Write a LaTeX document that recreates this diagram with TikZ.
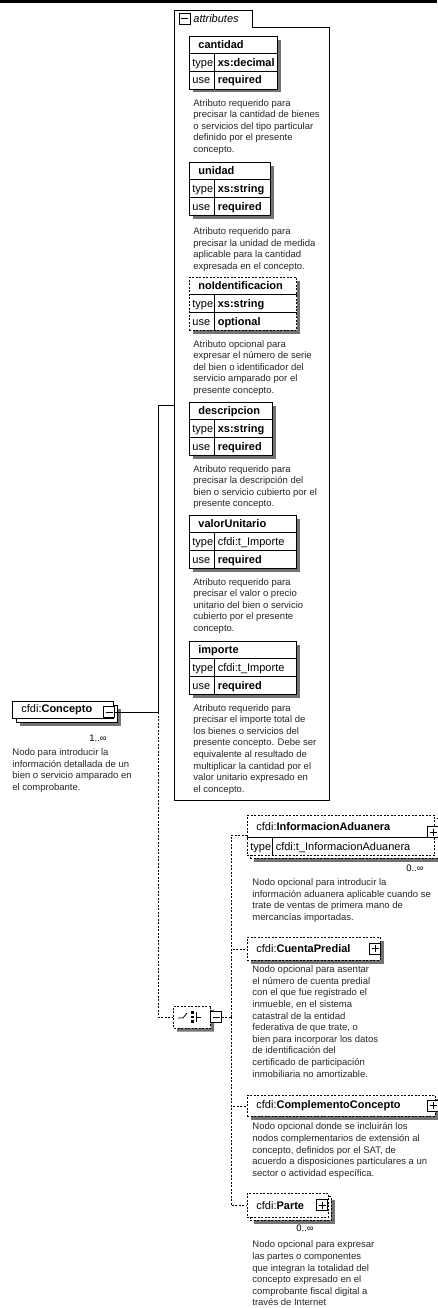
\documentclass[tikz,border=0pt]{standalone}
\usepackage{fontspec}
\setmainfont{Liberation Sans}
\usetikzlibrary{shapes.misc,shadows,positioning,calc}
\newcommand{\rowstrut}{\rule[-5pt]{0pt}{17pt}}
\newcommand{\headstrut}{\rule[-7pt]{0pt}{22pt}}
\setlength{\tabcolsep}{0pt}
\setlength{\arrayrulewidth}{0.8pt}

\begin{document}
\begin{tikzpicture}[x=1pt, y=-1pt, line width=0.8pt]
	\tikzstyle{shadowed} = [drop shadow={shadow xshift=3.5pt, shadow yshift=-3.5pt, fill=black!55, opacity=1}]
	\tikzstyle{tabbox} = [rectangle, draw=black, fill=white, inner sep=0pt, anchor=north west,
	font=\fontsize{11}{13}\selectfont]
	\tikzstyle{attrbox} = [tabbox, shadowed]
	\tikzstyle{optattrbox} = [attrbox, dash pattern=on 2pt off 1.5pt]
	\tikzstyle{opttabbox} = [tabbox, dash pattern=on 2pt off 1.5pt]
	\tikzstyle{elembox} = [rectangle, draw=black, fill=white, anchor=north west, inner xsep=9pt,
	inner ysep=0pt, align=left, font=\fontsize{11}{13}\selectfont]
	\tikzstyle{optelembox} = [elembox, dash pattern=on 2pt off 1.5pt]
	\tikzstyle{desc} = [anchor=north west, inner sep=0pt, align=left, text=black!85, font=\fontsize{9.5}{11.6}\selectfont]
	\tikzstyle{occurs} = [inner sep=0pt, font=\fontsize{9.5}{11.6}\selectfont]
	\tikzstyle{seq} = [chamfered rectangle, chamfered rectangle xsep=5pt, minimum width=37pt,
	minimum height=22pt, inner sep=0pt, draw=black, fill=white, dash pattern=on 2pt off 1.5pt, shadowed]
	\tikzstyle{minusbox} = [rectangle, draw=black, fill=white, minimum size=11pt, inner sep=0pt, line width=0.7pt,
	path picture={\draw ([xshift=2pt]path picture bounding box.west) -- ([xshift=-2pt]path picture bounding box.east);}]
	\tikzstyle{plusbox} = [rectangle, draw=black, fill=white, minimum size=11pt, inner sep=0pt, line width=0.7pt,
	path picture={\draw ([xshift=2pt]path picture bounding box.west) -- ([xshift=-2pt]path picture bounding box.east);
		\draw ([yshift=2pt]path picture bounding box.south) -- ([yshift=-2pt]path picture bounding box.north);}]
	\tikzstyle{link} = [line width=0.8pt]
	\tikzstyle{optlink} = [line width=0.8pt, dash pattern=on 2pt off 1.5pt]
	\useasboundingbox (0,0) rectangle (437,1308);
	\fill[black] (0,0) rectangle (437,3);
	% attributes
	\draw[fill=white] (174,800) -- (174,10) -- (252,10) -- (252,27) -- (329,27) -- (329,800) -- cycle;
	\node[minusbox] (attributes_minus) at (184.5,18.5) {};
	\node[anchor=west, inner sep=0pt, font=\fontsize{11}{13}\selectfont\itshape] (attributes) at (193,18.5) {attributes};
	\coordinate (attributes_link) at (174,405);
	\node[attrbox] (cantidad) at (189,36) {\begin{tabular}{@{\hspace{3pt}}p{22pt}|@{\hspace{3pt}}p{60pt}}
			\multicolumn{2}{@{\hspace{9pt}}l}{\textbf{cantidad}\rowstrut}\\\hline
			type & \textbf{xs:decimal}\rowstrut\\\hline
			use & \textbf{required}\rowstrut
	\end{tabular}};
	\node[desc] (cantidad_desc) at ($(cantidad.south west)+(4,9.5)$) {Atributo requerido para\\precisar la cantidad de bienes\\o servicios del tipo particular\\definido por el presente\\concepto.};
	\node[attrbox] (unidad) at (189,162) {\begin{tabular}{@{\hspace{3pt}}p{22pt}|@{\hspace{3pt}}p{53pt}}
			\multicolumn{2}{@{\hspace{9pt}}l}{\textbf{unidad}\rowstrut}\\\hline
			type & \textbf{xs:string}\rowstrut\\\hline
			use & \textbf{required}\rowstrut
	\end{tabular}};
	\node[desc] (unidad_desc) at ($(unidad.south west)+(4,12)$) {Atributo requerido para\\precisar la unidad de medida\\aplicable para la cantidad\\expresada en el concepto.};
	\node[optattrbox] (noidentificacion) at (189,277) {\begin{tabular}{@{\hspace{3pt}}p{22pt}|@{\hspace{3pt}}p{79pt}}
			\multicolumn{2}{@{\hspace{9pt}}l}{\textbf{noIdentificacion}\rowstrut}\\\hline
			type & \textbf{xs:string}\rowstrut\\\hline
			use & \textbf{optional}\rowstrut
	\end{tabular}};
	\node[desc] (noidentificacion_desc) at ($(noidentificacion.south west)+(4,9.5)$) {Atributo opcional para\\expresar el número de serie\\del bien o identificador del\\servicio amparado por el\\presente concepto.};
	\node[attrbox] (descripcion) at (189,402) {\begin{tabular}{@{\hspace{3pt}}p{22pt}|@{\hspace{3pt}}p{55pt}}
			\multicolumn{2}{@{\hspace{9pt}}l}{\textbf{descripcion}\rowstrut}\\\hline
			type & \textbf{xs:string}\rowstrut\\\hline
			use & \textbf{required}\rowstrut
	\end{tabular}};
	\node[desc] (descripcion_desc) at ($(descripcion.south west)+(4,9.5)$) {Atributo requerido para\\precisar la descripción del\\bien o servicio cubierto por el\\presente concepto.};
	\node[attrbox] (valorunitario) at (189,515) {\begin{tabular}{@{\hspace{3pt}}p{22pt}|@{\hspace{3pt}}p{79pt}}
			\multicolumn{2}{@{\hspace{9pt}}l}{\textbf{valorUnitario}\rowstrut}\\\hline
			type & cfdi:t\_Importe\rowstrut\\\hline
			use & \textbf{required}\rowstrut
	\end{tabular}};
	\node[desc] (valorunitario_desc) at ($(valorunitario.south west)+(4,9.5)$) {Atributo requerido para\\precisar el valor o precio\\unitario del bien o servicio\\cubierto por el presente\\concepto.};
	\node[attrbox] (importe) at (189,641) {\begin{tabular}{@{\hspace{3pt}}p{22pt}|@{\hspace{3pt}}p{79pt}}
			\multicolumn{2}{@{\hspace{9pt}}l}{\textbf{importe}\rowstrut}\\\hline
			type & cfdi:t\_Importe\rowstrut\\\hline
			use & \textbf{required}\rowstrut
	\end{tabular}};
	\node[desc] (importe_desc) at ($(importe.south west)+(4,9.5)$) {Atributo requerido para\\precisar el importe total de\\los bienes o servicios del\\presente concepto. Debe ser\\equivalente al resultado de\\multiplicar la cantidad por el\\valor unitario expresado en\\el concepto.};
	% concepto
	\node[elembox, shadowed, minimum width=101pt, minimum height=17pt] (concepto_back) at (16,705) {};
	\node[elembox, text width=83pt, minimum height=17pt] (concepto) at (12,701) {cfdi:\textbf{Concepto}};
	\node[minusbox] (concepto_minus) at (109,712) {};
	\node[occurs] (concepto_occurs) at (98,738) {1..∞};
	\node[desc] (concepto_desc) at (12,748.5) {Nodo para introducir la\\información detallada de un\\bien o servicio amparado en\\el comprobante.};
	\coordinate (junction) at (158,712);
	\draw[link] (concepto_minus.east) -- (junction) |- (attributes_link);
	% sequence
	\node[seq] (sequence) at (192,1017) {};
	\begin{scope}[shift={(sequence.center)}, line width=0.8pt]
		\draw (-14,1) -- (-9,1) -- (-5,-4);
		\fill (-1,-6) rectangle (2,-3.5);
		\fill (-1,-1.5) rectangle (2,1);
		\fill (-1,3) rectangle (2,5.5);
		\draw (4,-5) -- (4,5) (4,0) -- (9,0);
	\end{scope}
	\node[minusbox] (sequence_minus) at (216,1017) {};
	\draw[optlink] (junction) |- (sequence.west);
	\coordinate (bus) at (231,1017);
	\draw[optlink] (sequence_minus.east) -- (bus);
	% informacion aduanera
	\node[optelembox, shadowed, minimum width=188pt, minimum height=40pt] (aduanera_back) at (250,818) {};
	\node[opttabbox] (aduanera) at (247,815) {\begin{tabular}{@{\hspace{3pt}}p{22pt}|@{\hspace{3pt}}p{159pt}}
			\multicolumn{2}{@{\hspace{9pt}}l}{cfdi:\textbf{InformacionAduanera}\headstrut}\\\hline
			type & cfdi:t\_InformacionAduanera\rowstrut
	\end{tabular}};
	\node[plusbox] (aduanera_plus) at (433,832) {};
	\node[occurs, anchor=east] (aduanera_occurs) at (424,868) {0..∞};
	\node[desc] (aduanera_desc) at (252,878.5) {Nodo opcional para introducir la\\información aduanera aplicable cuando se\\trate de ventas de primera mano de\\mercancías importadas.};
	% cuenta predial
	\node[optelembox, shadowed, text width=115pt, minimum height=23pt] (cuenta) at (247,937) {cfdi:\textbf{CuentaPredial}};
	\node[plusbox] (cuenta_plus) at (375,948.5) {};
	\node[desc] (cuenta_desc) at (252,965.5) {Nodo opcional para asentar\\el número de cuenta predial\\con el que fue registrado el\\inmueble, en el sistema\\catastral de la entidad\\federativa de que trate, o\\bien para incorporar los datos\\de identificación del\\certificado de participación\\inmobiliaria no amortizable.};
	% complemento concepto
	\node[optelembox, shadowed, text width=170pt, minimum height=21pt] (complemento) at (247,1095) {cfdi:\textbf{ComplementoConcepto}};
	\node[plusbox] (complemento_plus) at (433,1105.5) {};
	\node[desc] (complemento_desc) at (252,1122.5) {Nodo opcional donde se incluirán los\\nodos complementarios de extensión al\\concepto, definidos por el SAT, de\\acuerdo a disposiciones particulares a un\\sector o actividad específica.};
	% parte
	\node[optelembox, shadowed, minimum width=81pt, minimum height=24pt] (parte_back) at (250,1196) {};
	\node[optelembox, text width=63pt, minimum height=24pt] (parte) at (247,1193) {cfdi:\textbf{Parte}};
	\node[plusbox] (parte_plus) at (322,1205) {};
	\node[occurs] (parte_occurs) at (305,1228) {0..∞};
	\node[desc] (parte_desc) at (252,1240.5) {Nodo opcional para expresar\\las partes o componentes\\que integran la totalidad del\\concepto expresado en el\\comprobante fiscal digital a\\través de Internet};
	% final draw
	\draw[optlink] (bus) |- (aduanera.west);
	\draw[optlink] (bus) |- (cuenta.west);
	\draw[optlink] (bus) |- (complemento.west);
	\draw[optlink] (bus) |- (parte.west);
\end{tikzpicture}
\end{document}
